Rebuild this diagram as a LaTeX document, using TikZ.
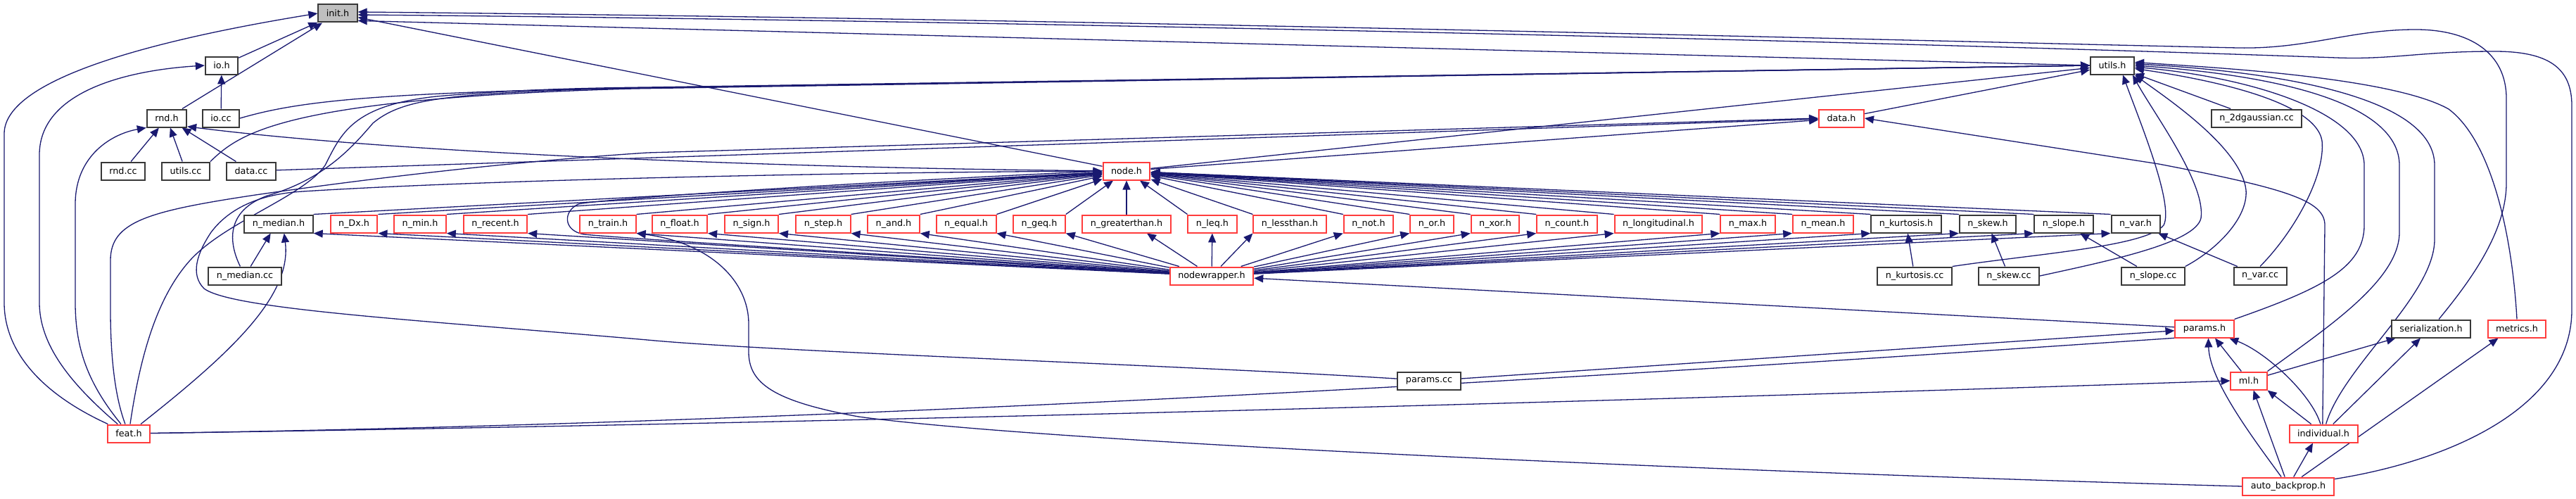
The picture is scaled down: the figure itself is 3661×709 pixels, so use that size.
\documentclass[tikz,border=0pt]{standalone}
\usepackage{fontspec}
\setmainfont{DejaVu Sans}
\usetikzlibrary{arrows.meta}
\definecolor{edgeblue}{HTML}{191970}
\definecolor{boxred}{HTML}{FF3C3C}
\definecolor{boxgrey}{HTML}{383838}
\definecolor{rootfill}{HTML}{BFBFBF}
\pgfdeclarelayer{background}
\pgfsetlayers{background,main}

\begin{document}
\begin{tikzpicture}[
	x=1pt, y=-1pt,
	font=\fontsize{12.75}{15}\selectfont,
	hdrbox/.style={draw=boxgrey, line width=2pt, fill=white, minimum height=25pt, inner xsep=11.5pt, inner ysep=0pt},
	redbox/.style={hdrbox, draw=boxred},
	rootbox/.style={hdrbox, fill=rootfill},
	incl/.style={edgeblue, line width=1.3pt, -{Triangle[length=13pt,width=11pt]}}
	]

	\useasboundingbox (0,0) rectangle (3661,709);

	% ================= Upper rows =================
	\node[rootbox] (init) at (480,19) {init.h};
	\node[hdrbox] (ioh) at (315,93) {io.h};
	\node[hdrbox] (utilsh) at (3002,93) {utils.h};
	\node[hdrbox] (rndh) at (237,168) {rnd.h};
	\node[hdrbox] (iocc) at (314,168) {io.cc};
	\node[redbox] (datah) at (2617,168) {data.h};
	\node[hdrbox] (gausscc) at (3207,168) {n\_2dgaussian.cc};
	\node[hdrbox] (rndcc) at (175,243) {rnd.cc};
	\node[hdrbox] (utilscc) at (264,243) {utils.cc};
	\node[hdrbox] (datacc) at (357,243) {data.cc};
	\node[redbox] (nodeh) at (1601,243) {node.h};

	% ================= Node headers =================
	\foreach \n/\x/\t/\c in {
		nmedian/396/n\_median.h/boxgrey,
		ndx/503/n\_Dx.h/boxred,
		nmin/597/n\_min.h/boxred,
		nrecent/704/n\_recent.h/boxred,
		ntrain/864/n\_train.h/boxred,
		nfloat/966/n\_float.h/boxred,
		nsign/1068/n\_sign.h/boxred,
		nstep/1170/n\_step.h/boxred,
		nand/1270/n\_and.h/boxred,
		nequal/1373/n\_equal.h/boxred,
		ngeq/1477/n\_geq.h/boxred,
		ngreater/1601/n\_greaterthan.h/boxred,
		nleq/1723/n\_leq.h/boxred,
		nless/1833/n\_lessthan.h/boxred,
		nnot/1945/n\_not.h/boxred,
		nor/2035/n\_or.h/boxred,
		nxor/2125/n\_xor.h/boxred,
		ncount/2227/n\_count.h/boxred,
		nlong/2357/n\_longitudinal.h/boxred,
		nmax/2484/n\_max.h/boxred,
		nmean/2591/n\_mean.h/boxred,
		nkurt/2709/n\_kurtosis.h/boxgrey,
		nskew/2825/n\_skew.h/boxgrey,
		nslope/2933/n\_slope.h/boxgrey,
		nvar/3035/n\_var.h/boxgrey}{
		\node[hdrbox, draw=\c] (\n) at (\x,318) {\t};
	}

	% ================= Lower rows =================
	\node[hdrbox] (mediancc) at (348,392) {n\_median.cc};
	\node[redbox] (wrapper) at (1722,392) {nodewrapper.h};
	\node[hdrbox] (kurtcc) at (2721,392) {n\_kurtosis.cc};
	\node[hdrbox] (skewcc) at (2855,392) {n\_skew.cc};
	\node[hdrbox] (slopecc) at (3060,392) {n\_slope.cc};
	\node[hdrbox] (varcc) at (3212,392) {n\_var.cc};
	\node[redbox] (paramsh) at (3133,467) {params.h};
	\node[hdrbox] (serial) at (3455,467) {serialization.h};
	\node[redbox] (metrics) at (3577,467) {metrics.h};
	\node[hdrbox] (paramscc) at (2031,541) {params.cc};
	\node[redbox] (mlh) at (3196,541) {ml.h};
	\node[redbox] (feath) at (183,616) {feat.h};
	\node[redbox] (indiv) at (3302,616) {individual.h};
	\node[redbox] (autob) at (3252,691) {auto\_backprop.h};

	\begin{pgfonlayer}{background}
		\fill[white] (0,0) rectangle (3661,709);

		% ================= into init.h =================
		\draw[incl] (ioh) -- (init);
		\draw[incl] (rndh) -- (init);
		\draw[incl] (nodeh) -- (init);
		\draw[incl] (utilsh.west) -- (init.-20);
		\draw[incl] (feath) .. controls (60,560) and (6,500) .. (6,430) -- (6,190) .. controls (6,110) and (230,55) .. (init.west);
		\draw[incl] (serial) .. controls (3510,400) and (3562,330) .. (3562,260) -- (3562,140) .. controls (3562,75) and (3510,42) .. (3433,42) .. controls (3340,42) and (3280,70) .. (3180,68) .. controls (2600,55) and (1600,28) .. (init.4);
		\draw[incl] (autob) .. controls (3480,655) and (3655,580) .. (3655,440) -- (3655,150) .. controls (3655,95) and (3620,73) .. (3545,73) .. controls (3440,73) and (3400,85) .. (3320,82) .. controls (2700,60) and (1500,30) .. (init.-4);

		% ================= into io.h and rnd.h =================
		\draw[incl] (iocc) -- (ioh);
		\draw[incl] (feath) .. controls (100,545) and (56,490) .. (56,430) -- (56,220) .. controls (56,130) and (180,100) .. (ioh.west);
		\draw[incl] (rndcc) -- (rndh);
		\draw[incl] (utilscc) -- (rndh);
		\draw[incl] (datacc) -- (rndh);
		\draw[incl] (feath) .. controls (125,545) and (107,495) .. (107,430) -- (107,290) .. controls (107,220) and (160,190) .. (rndh.south west);
		\draw[incl] (nodeh) .. controls (1200,240) and (600,222) .. (rndh.-22);

		% ================= into utils.h =================
		\draw[incl] (iocc.east) .. controls (420,145) and (520,132) .. (900,125) -- (utilsh.west);
		\draw[incl] (utilscc.north east) .. controls (340,190) and (400,140) .. (900,126) -- (utilsh.west);
		\draw[incl] (feath) .. controls (200,500) and (225,420) .. (270,370) .. controls (320,315) and (430,280) .. (462,235) .. controls (485,190) and (500,150) .. (620,137) .. controls (720,128) and (820,125) .. (920,124) -- (utilsh.west);
		\draw[incl] (mediancc) .. controls (325,345) and (320,300) .. (380,278) .. controls (460,255) and (500,210) .. (530,175) .. controls (560,150) and (600,140) .. (700,133) .. controls (780,128) and (850,126) .. (920,125) -- (utilsh.west);
		\draw[incl] (nodeh) -- (utilsh);
		\draw[incl] (datah) -- (utilsh);
		\draw[incl] (gausscc) -- (utilsh);
		\draw[incl] (kurtcc.north east) .. controls (2900,360) and (3050,350) .. (3075,320) .. controls (3090,290) and (3040,170) .. (utilsh.-42);
		\draw[incl] (skewcc.east) .. controls (3000,370) and (3120,345) .. (3128,310) .. controls (3135,260) and (3060,160) .. (utilsh.-25);
		\draw[incl] (slopecc.north east) .. controls (3150,355) and (3195,310) .. (3192,270) .. controls (3185,210) and (3080,140) .. (utilsh.south east);
		\draw[incl] (varcc.north) .. controls (3260,330) and (3305,250) .. (3300,200) .. controls (3290,140) and (3120,110) .. (utilsh.-8);
		\draw[incl] (paramsh.north east) .. controls (3300,410) and (3360,380) .. (3360,320) -- (3360,235) .. controls (3360,160) and (3200,110) .. (utilsh.-4);
		\draw[incl] (mlh.north east) .. controls (3300,470) and (3410,400) .. (3410,330) -- (3410,235) .. controls (3410,150) and (3250,108) .. (utilsh.east);
		\draw[incl] (indiv.75) .. controls (3330,520) and (3460,420) .. (3460,340) -- (3460,235) .. controls (3460,140) and (3250,103) .. (utilsh.4);
		\draw[incl] (metrics.north) .. controls (3570,330) and (3540,200) .. (3480,155) .. controls (3400,110) and (3150,96) .. (utilsh.8);

		% ================= into data.h =================
		\draw[incl] (datacc) -- (datah);
		\draw[incl] (nodeh) -- (datah);
		\draw[incl] (feath) .. controls (162,560) and (157,500) .. (157,440) -- (157,370) .. controls (157,315) and (210,300) .. (363,277) .. controls (550,250) and (750,228) .. (920,217) -- (datah.west);
		\draw[incl] (indiv.95) -- (3304,320) .. controls (3304,285) and (3250,268) .. (3068,233) -- (datah.east);

		% ================= into node.h =================
		\foreach \n in {nmedian,ndx,nmin,nrecent,ntrain,nfloat,nsign,nstep,nand,nequal,ngeq}{
			\draw[incl] (\n.north east) -- (nodeh);
			\draw[incl] (wrapper) -- (\n.south east);
		}
		\foreach \n in {nless,nnot,nor,nxor,ncount,nlong,nmax,nmean,nkurt,nskew,nslope,nvar}{
			\draw[incl] (\n.north west) -- (nodeh);
			\draw[incl] (wrapper) -- (\n.south west);
		}
		\draw[incl] (ngreater) -- (nodeh);
		\draw[incl] (wrapper) -- (ngreater.-25);
		\draw[incl] (nleq.north west) -- (nodeh);
		\draw[incl] (wrapper) -- (nleq);
		\draw[incl] (paramscc) .. controls (1700,520) and (1100,500) .. (920,483) .. controls (600,455) and (330,440) .. (290,410) .. controls (270,390) and (280,360) .. (300,330) .. controls (330,290) and (380,275) .. (430,272) .. controls (700,255) and (1200,245) .. (nodeh.west);
		\draw[incl] (wrapper) .. controls (1400,370) and (900,340) .. (830,333) .. controls (800,328) and (800,300) .. (822,290) .. controls (850,283) and (1200,260) .. (nodeh.west);

		% ================= into the node headers =================
		\draw[incl] (mediancc) -- (nmedian.-130);
		\draw[incl] (feath) .. controls (330,500) and (415,420) .. (nmedian.-60);
		\draw[incl] (kurtcc) -- (nkurt);
		\draw[incl] (skewcc) -- (nskew);
		\draw[incl] (slopecc) -- (nslope);
		\draw[incl] (varcc) -- (nvar);
		\draw[incl] (autob.west) .. controls (2500,672) and (1500,630) .. (1220,592) .. controls (1100,570) and (1064,545) .. (1064,500) -- (1064,460) .. controls (1064,400) and (1010,345) .. (ntrain.south east);

		% ================= lower part =================
		\draw[incl] (paramsh) -- (wrapper);
		\draw[incl] (paramscc) -- (paramsh);
		\draw[incl] (feath) .. controls (1400,598) and (2650,510) .. (paramsh.-10);
		\draw[incl] (feath) .. controls (1400,598) and (2600,560) .. (mlh.west);
		\draw[incl] (mlh) -- (paramsh.-42);
		\draw[incl] (indiv) .. controls (3285,560) and (3220,500) .. (paramsh.-21);
		\draw[incl] (autob) .. controls (3200,620) and (3140,540) .. (paramsh.-68);
		\draw[incl] (mlh) -- (serial.-165);
		\draw[incl] (indiv) -- (serial.-138);
		\draw[incl] (indiv) -- (mlh.south east);
		\draw[incl] (autob) -- (mlh.-64);
		\draw[incl] (autob) -- (indiv.-138);
		\draw[incl] (autob) -- (metrics.-153);
	\end{pgfonlayer}

\end{tikzpicture}
\end{document}
